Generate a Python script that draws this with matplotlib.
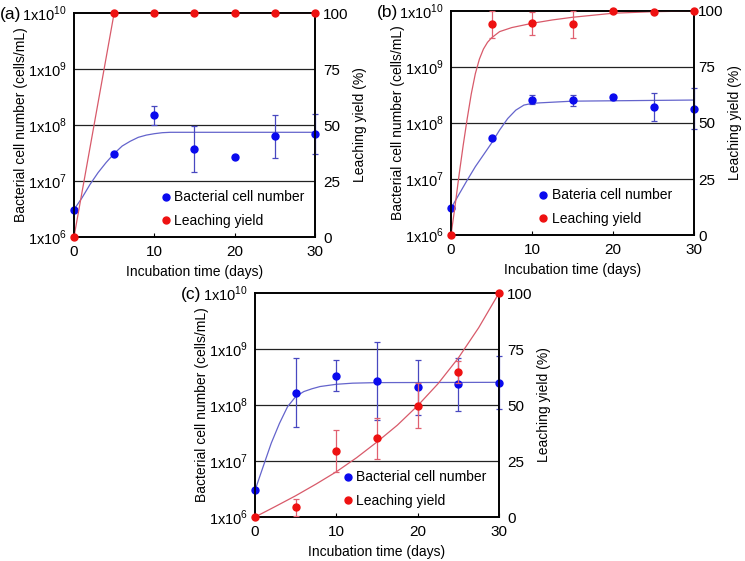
import matplotlib
matplotlib.use('Agg')
import matplotlib.pyplot as plt
import numpy as np

plt.rcParams['font.family'] = ['Liberation Sans', 'DejaVu Sans']
plt.rcParams['mathtext.fontset'] = 'custom'
plt.rcParams['mathtext.rm'] = 'Liberation Sans'
plt.rcParams['font.size'] = 10

days = [0, 5, 10, 15, 20, 25, 30]

# panel (a)
a_cells = [3.0e6, 3.1e7, 1.53e8, 3.8e7, 2.7e7, 6.3e7, 6.8e7]
a_cells_lo = [3.0e6, 3.1e7, 1.0e8, 1.47e7, 2.7e7, 2.6e7, 3.0e7]
a_cells_hi = [3.0e6, 3.1e7, 2.2e8, 9.6e7, 2.7e7, 1.49e8, 1.55e8]
a_yield = [0, 100, 100, 100, 100, 100, 100]
a_yield_err = [0, 0, 0, 0, 0, 0, 0]
a_fit_days = [0, 1, 2, 3, 4, 5, 6, 7, 8, 9, 10, 11, 12, 30]
a_fit_log = [6.49, 6.70, 6.94, 7.15, 7.33, 7.49, 7.625, 7.71, 7.78, 7.82, 7.845, 7.863, 7.87, 7.87]
a_yfit_days = [0, 5, 30]
a_yfit = [0, 100, 100]

# panel (b)
b_cells = [3.0e6, 5.3e7, 2.6e8, 2.57e8, 2.9e8, 1.93e8, 1.8e8]
b_cells_lo = [3.0e6, 5.3e7, 2.15e8, 2.04e8, 2.6e8, 1.07e8, 7.8e7]
b_cells_hi = [3.0e6, 5.3e7, 3.1e8, 3.16e8, 3.2e8, 3.4e8, 4.2e8]
b_yield = [0, 94.0, 94.5, 94.0, 100, 99.7, 100]
b_yield_err = [0, 6.2, 5.2, 5.9, 0, 0, 0]
b_fit_days = [0, 1, 2, 3, 4, 5, 6, 7, 8, 9, 10, 11, 15, 30]
b_fit_log = [6.476, 6.73, 6.98, 7.22, 7.43, 7.64, 7.875, 8.08, 8.23, 8.32, 8.35, 8.36, 8.39, 8.41]
b_yfit_days = [0, 0.5, 1, 1.5, 2, 2.5, 3, 3.5, 4, 4.5, 5, 6, 7.5, 10, 12.5, 15, 20, 25, 30]
b_yfit = [0, 13, 27, 40, 52, 63, 72, 78.5, 83, 86, 88, 90.8, 92.6, 94.5, 96, 97.2, 99, 99.7, 100]

# panel (c)
c_cells = [3.0e6, 1.66e8, 3.34e8, 2.7e8, 2.07e8, 2.37e8, 2.5e8]
c_cells_lo = [3.0e6, 4.1e7, 1.8e8, 5.5e7, 6.5e7, 7.7e7, 8.5e7]
c_cells_hi = [3.0e6, 6.9e8, 6.3e8, 1.33e9, 6.3e8, 6.8e8, 7.4e8]
c_yield = [0, 4.3, 29.5, 35.1, 49.7, 64.7, 100]
c_yield_err = [0, 3.8, 9.2, 9.0, 10.0, 5.0, 0]
c_fit_days = [0, 1, 2, 3, 4, 5, 6, 7, 8, 10, 12, 15, 30]
c_fit_log = [6.476, 6.9, 7.32, 7.67, 7.97, 8.15, 8.24, 8.29, 8.33, 8.37, 8.39, 8.40, 8.405]
c_yfit_days = [0, 2.5, 5, 7.5, 10, 12.5, 15, 17.5, 20, 22.5, 25, 27.5, 30]
c_yfit = [0, 4.7, 9.5, 14.7, 20.2, 26.5, 33.5, 41, 49.7, 59.5, 71, 84.5, 100]

blue = '#0a0aee'
blue_line = '#6464cc'
blue_err = '#4848c0'
red = '#ee1111'
red_line = '#d85a6a'
red_err = '#e06070'

fig = plt.figure(figsize=(7.45, 5.61), dpi=100)


def panel(rect, tag, cells, lo, hi, fd, flog, yld, yerr, yd, yfit, blabel, rpad):
    ax = fig.add_axes(rect)
    ax.set_yscale('log')
    ax.set_xlim(0, 30)
    ax.set_ylim(1e6, 1e10)
    for g in [1e7, 1e8, 1e9]:
        ax.axhline(g, color='#222222', lw=0.9, zorder=0)
    ax.plot(fd, 10 ** np.array(flog), color=blue_line, lw=0.9, zorder=2)
    c = np.array(cells)
    err = [c - np.array(lo), np.array(hi) - c]
    ax.errorbar(days, cells, yerr=err, fmt='none', ecolor=blue_err, elinewidth=0.9,
                capsize=2, capthick=0.9, zorder=3, clip_on=False)
    h1, = ax.plot(days, cells, 'o', color=blue, ms=5, zorder=4, clip_on=False, label=blabel)
    ax.set_yticks([1e6, 1e7, 1e8, 1e9, 1e10])
    ax.set_yticklabels(['1x10$^{\\mathregular{%d}}$' % k for k in range(6, 11)])
    ax.minorticks_off()
    ax.set_xticks([0, 10, 20, 30])
    ax.tick_params(direction='in', length=3, width=0.8, labelsize=11, pad=6)
    ax.tick_params(axis='y', length=0, pad=5, labelsize=10.5)
    ax.set_xlabel('Incubation time (days)', fontsize=10, labelpad=4)
    ax.set_ylabel('Bacterial cell number (cells/mL)', fontsize=10, labelpad=-4)
    for s in ax.spines.values():
        s.set_linewidth(1.2)

    ax2 = ax.twinx()
    ax2.set_ylim(0, 100)
    ax2.plot(yd, yfit, color=red_line, lw=0.9, zorder=2)
    if max(yerr) > 0:
        ax2.errorbar(days, yld, yerr=yerr, fmt='none', ecolor=red_err, elinewidth=0.9,
                     capsize=2, capthick=0.9, zorder=3, clip_on=False)
    h2, = ax2.plot(days, yld, 'o', color=red, ms=5, zorder=4, clip_on=False, label='Leaching yield')
    ax2.set_yticks([0, 25, 50, 75, 100])
    ax2.tick_params(length=0, labelsize=11, pad=rpad)
    ax2.set_ylabel('Leaching yield (%)', fontsize=10, labelpad=3)
    for s in ax2.spines.values():
        s.set_linewidth(1.2)
    ax2.legend([h1, h2], [blabel, 'Leaching yield'], loc='lower left',
               bbox_to_anchor=(0.34, 0.015), frameon=False, handlelength=0.6,
               handletextpad=0.3, labelspacing=0.7, borderaxespad=0, fontsize=10)
    fig.text(rect[0] - 0.099, rect[1] + rect[3] - 0.003, tag, fontsize=12.5, va='center')
    return ax, ax2


panel([0.0993, 0.5775, 0.3235, 0.3993], '(a)', a_cells, a_cells_lo, a_cells_hi,
      a_fit_days, a_fit_log, a_yield, a_yield_err, a_yfit_days, a_yfit, 'Bacterial cell number', 6)
panel([0.6054, 0.5811, 0.3262, 0.3993], '(b)', b_cells, b_cells_lo, b_cells_hi,
      b_fit_days, b_fit_log, b_yield, b_yield_err, b_yfit_days, b_yfit, 'Bateria cell number', 3)
panel([0.3423, 0.0784, 0.3275, 0.3993], '(c)', c_cells, c_cells_lo, c_cells_hi,
      c_fit_days, c_fit_log, c_yield, c_yield_err, c_yfit_days, c_yfit, 'Bacterial cell number', 6)

fig.savefig('out.png', dpi=100)
